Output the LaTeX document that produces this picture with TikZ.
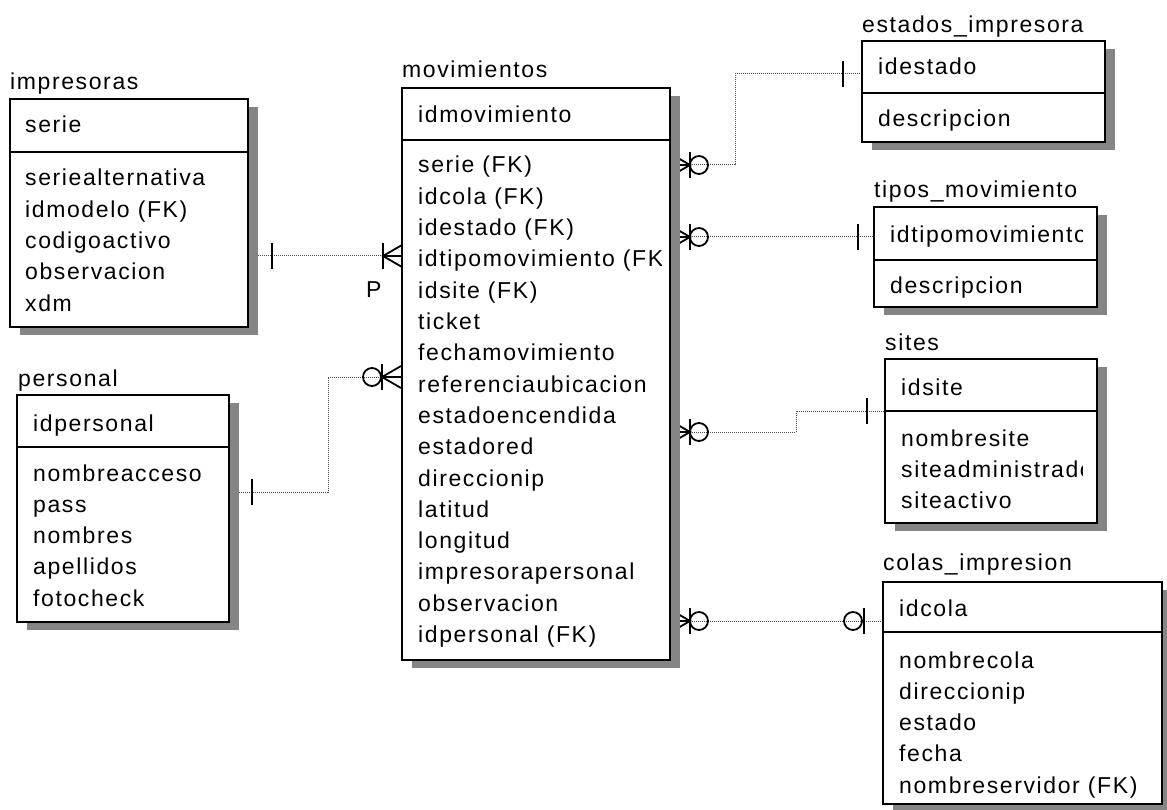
\documentclass[tikz,border=0pt]{standalone}
\usepackage{fontspec}
\setmainfont{Liberation Sans}[LetterSpace=7]
\usetikzlibrary{calc,backgrounds}
\newcommand\erfont{\fontsize{23}{31.3}\selectfont}
% \attrlist{entity}{x}{first baseline}{item,item,...}: one node per column line
\newcommand\attrlist[4]{%
  \foreach \t [count=\i from 0] in {#4}
    \node[rows] (#1-\i) at (#2,#3+\i*31.3) {\t};}
\begin{document}
\begin{tikzpicture}[x=1pt,y=-1pt,
  entity/.style={draw, line width=1.8pt, fill=white, inner sep=0pt, outer sep=0pt, anchor=north west},
  shade/.style={fill=black!48},
  conn/.style={line width=1pt, black!70, dash pattern=on 1pt off 1pt},
  symline/.style={line width=1.8pt, black},
  divider/.style={line width=1.8pt},
  title/.style={font=\erfont, anchor=base west, inner sep=0pt},
  rows/.style={font=\erfont, anchor=base west, inner sep=0pt},
  pics/onebar/.style={code={\draw[symline] (0,-13) -- (0,13);}},
  pics/ring/.style={code={\draw[symline] (0,0) circle[radius=9];}},
  pics/crowfoot/.style={code={\draw[symline] (19,-11) -- (0,0) -- (19,11) (0,0) -- (19,0);}},
]
\useasboundingbox (0,0) rectangle (1167,810);

% ---- entity boxes ----
\node[entity, minimum width=238pt, minimum height=228pt] (impresoras) at (10,99) {};
\node[entity, minimum width=268pt, minimum height=572pt] (movimientos) at (402,88) {};
\node[entity, minimum width=212pt, minimum height=227pt] (personal) at (17,395) {};
\node[entity, minimum width=243pt, minimum height=101pt] (estados) at (862,41) {};
\node[entity, minimum width=223pt, minimum height=100pt] (tipos) at (874,207) {};
\node[entity, minimum width=212pt, minimum height=164pt] (sites) at (885,359) {};
\node[entity, minimum width=279pt, minimum height=222pt] (colas) at (883,582) {};

% ---- key / attribute dividers ----
\foreach \e/\y in {impresoras/152, movimientos/140, personal/447, estados/93, tipos/260, sites/411, colas/632}
  \draw[divider] (\e.west |- 0,\y) -- (\e.east |- 0,\y);

% ---- table names ----
\node[title] (t-impresoras) at (10,90) {impresoras};
\node[title] (t-movimientos) at (402,78) {movimientos};
\node[title] (t-personal) at (18,386) {personal};
\node[title] (t-estados) at (862,33) {estados\_impresora};
\node[title] (t-tipos) at (874,198) {tipos\_movimiento};
\node[title] (t-sites) at (885,350) {sites};
\node[title] (t-colas) at (883,570) {colas\_impresion};

% ---- columns ----
\begin{scope}
  \clip (impresoras.north west) rectangle ([xshift=-5pt]impresoras.south east);
  \node[rows] (k-impresoras) at (25,133) {serie};
  \attrlist{a-impresoras}{25}{186}{seriealternativa,idmodelo (FK),codigoactivo,observacion,xdm}
\end{scope}
\begin{scope}
  \clip (movimientos.north west) rectangle ([xshift=-9pt]movimientos.south east);
  \node[rows] (k-movimientos) at (418,123) {idmovimiento};
  \attrlist{a-movimientos}{418}{173}{serie (FK),idcola (FK),idestado (FK),idtipomovimiento (FK),idsite (FK),ticket,fechamovimiento,referenciaubicacion,estadoencendida,estadored,direccionip,latitud,longitud,impresorapersonal,observacion,idpersonal (FK)}
\end{scope}
\begin{scope}
  \clip (personal.north west) rectangle ([xshift=-5pt]personal.south east);
  \node[rows] (k-personal) at (33,431) {idpersonal};
  \attrlist{a-personal}{33}{481}{nombreacceso,pass,nombres,apellidos,fotocheck}
\end{scope}
\begin{scope}
  \clip (estados.north west) rectangle ([xshift=-5pt]estados.south east);
  \node[rows] (k-estados) at (878,75) {idestado};
  \node[rows] (a-estados) at (878,127) {descripcion};
\end{scope}
\begin{scope}
  \clip (tipos.north west) rectangle ([xshift=-15pt]tipos.south east);
  \node[rows] (k-tipos) at (890,243) {idtipomovimiento};
  \node[rows] (a-tipos) at (890,294) {descripcion};
\end{scope}
\begin{scope}
  \clip (sites.north west) rectangle ([xshift=-15pt]sites.south east);
  \node[rows] (k-sites) at (901,395) {idsite};
  \attrlist{a-sites}{901}{446}{nombresite,siteadministrador,siteactivo}
\end{scope}
\begin{scope}
  \clip (colas.north west) rectangle ([xshift=-5pt]colas.south east);
  \node[rows] (k-colas) at (899,616) {idcola};
  \attrlist{a-colas}{899}{668}{nombrecola,direccionip,estado,fecha,nombreservidor (FK)}
\end{scope}

\node[title] (p-label) at (366,298) {P};

% ---- relationship end points ----
\coordinate (imp-r) at (impresoras.east |- 0,256);
\coordinate (mov-l1) at (movimientos.west |- 0,256);
\coordinate (per-r) at (personal.east |- 0,492);
\coordinate (mov-l2) at (movimientos.west |- 0,377);
\coordinate (mov-r1) at (movimientos.east |- 0,165);
\coordinate (est-l) at (estados.west |- 0,74);
\coordinate (mov-r2) at (movimientos.east |- 0,237);
\coordinate (tip-l) at (tipos.west |- 0,237);
\coordinate (mov-r3) at (movimientos.east |- 0,432);
\coordinate (sit-l) at (sites.west |- 0,411);
\coordinate (mov-r4) at (movimientos.east |- 0,621);
\coordinate (col-l) at (colas.west |- 0,621);

\begin{scope}[on background layer]
  % connectors
  \draw[conn] (imp-r) -- (mov-l1);
  \draw[conn] (per-r) -- ++(99,0) |- (mov-l2);
  \draw[conn] (mov-r1) -- ++(65,0) |- (est-l);
  \draw[conn] (mov-r2) -- (tip-l);
  \draw[conn] (mov-r3) -- ++(126,0) |- (sit-l);
  \draw[conn] (mov-r4) -- (col-l);

  % cardinality marks
  \pic at ($(imp-r)+(24,0)$) {onebar};
  \pic at ($(mov-l1)+(-19,0)$) {onebar};
  \pic at ($(mov-l1)+(-19,0)$) {crowfoot};

  \pic at ($(per-r)+(23,0)$) {onebar};
  \pic at ($(mov-l2)+(-20,0)$) {onebar};
  \pic at ($(mov-l2)+(-20,0)$) {crowfoot};
  \pic at ($(mov-l2)+(-30,0)$) {ring};

  \foreach \c in {mov-r1, mov-r2, mov-r3, mov-r4} {
    \pic[xscale=-1] at ($(\c)+(20,0)$) {crowfoot};
    \pic at ($(\c)+(20,0)$) {onebar};
    \pic at ($(\c)+(29,0)$) {ring};
  }
  \pic at ($(est-l)+(-19,0)$) {onebar};
  \pic at ($(tip-l)+(-16,0)$) {onebar};
  \pic at ($(sit-l)+(-18,0)$) {onebar};
  \pic at ($(col-l)+(-19,0)$) {onebar};
  \pic at ($(col-l)+(-30,0)$) {ring};

  % drop shadows
  \foreach \e in {impresoras, movimientos, personal, estados, tipos, sites, colas}
    \fill[shade] ($(\e.north west)+(10,8)$) rectangle ($(\e.south east)+(10,8)$);
\end{scope}
\end{tikzpicture}
\end{document}
